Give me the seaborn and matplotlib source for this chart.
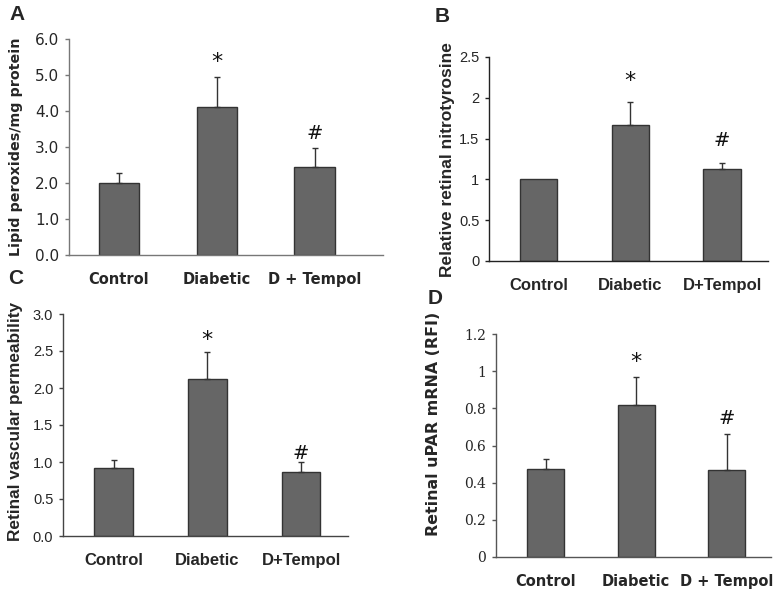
import matplotlib
matplotlib.use('Agg')
import matplotlib.pyplot as plt
import numpy as np
import seaborn as sns

# Panel A - lipid peroxides
cats_a = ['Control', 'Diabetic', 'D + Tempol']
vals_a = [2.01, 4.12, 2.44]
err_a = [0.27, 0.83, 0.52]

# Panel B - nitrotyrosine
cats_b = ['Control', 'Diabetic', 'D+Tempol']
vals_b = [1.00, 1.665, 1.13]
err_b = [0.0, 0.285, 0.075]

# Panel C - vascular permeability
cats_c = ['Control', 'Diabetic', 'D+Tempol']
vals_c = [0.92, 2.12, 0.86]
err_c = [0.11, 0.36, 0.145]

# Panel D - uPAR mRNA
cats_d = ['Control', 'Diabetic', 'D + Tempol']
vals_d = [0.474, 0.82, 0.469]
err_d = [0.051, 0.148, 0.194]

marks = ['', '*', '#']

sns.set_style('white')

W, H = 781, 595
fig = plt.figure(figsize=(W / 100, H / 100), dpi=100)


def px_axes(left, right, bottom, top):
    return fig.add_axes([left / W, 1 - bottom / H, (right - left) / W, (bottom - top) / H])


def draw_panel(ax, box, cats, vals, errs, ylim, yticks, ytick_fmt, xlim, ylabel, label_px,
               tick_font, cat_font, label_font, spine_col, mark_offsets):
    sns.barplot(x=cats, y=vals, ax=ax, color='#666666', saturation=1,
                edgecolor='#333333', linewidth=1, width=0.41, errorbar=None)
    idx = [i for i, e in enumerate(errs) if e > 0]
    ax.errorbar(idx, [vals[i] for i in idx],
                yerr=[[0] * len(idx), [errs[i] for i in idx]],
                fmt='none', ecolor='#333333', elinewidth=1, capsize=2.5, capthick=1)
    ax.set_ylim(*ylim)
    ax.set_xlim(*xlim)
    ax.set_yticks(yticks)
    ax.set_yticklabels([ytick_fmt.format(t) for t in yticks], fontfamily=tick_font[0],
                       fontsize=tick_font[1])
    ax.set_xticks(range(len(cats)))
    ax.set_xticklabels(cats, fontfamily=cat_font[0], fontsize=cat_font[1], fontweight='bold')
    ax.tick_params(axis='y', left=True, direction='out', length=3, width=1,
                   color=spine_col, pad=4)
    ax.tick_params(axis='x', bottom=False, pad=9)
    for s in ['top', 'right']:
        ax.spines[s].set_visible(False)
    for s in ['left', 'bottom']:
        ax.spines[s].set_color(spine_col)
        ax.spines[s].set_linewidth(1)
    ax.set_xlabel('')
    ax.set_ylabel(ylabel, fontfamily=label_font[0], fontsize=label_font[1], fontweight='bold')
    # label centre given in pixels; anchor is the right edge of the rotated text
    left, right, bottom, top = box
    lx = (label_px[0] + 8 - left) / (right - left)
    ly = (bottom - label_px[1]) / (bottom - top)
    ax.yaxis.set_label_coords(lx, ly)
    for i, (m, off) in enumerate(zip(marks, mark_offsets)):
        if m:
            ax.annotate(m, (i, vals[i] + errs[i]), xytext=(0, off), textcoords='offset points',
                        ha='center', va='center', fontsize=16 if m == '*' else 14,
                        fontfamily='DejaVu Sans', color='#111111')


box_a = (69, 383, 255, 39)
ax_a = px_axes(*box_a)
draw_panel(ax_a, box_a, cats_a, vals_a, err_a, (0, 6), np.arange(0, 6.01, 1.0), '{:.1f}',
           (-0.51, 2.70), 'Lipid peroxides/mg protein', (15, 147),
           ('DejaVu Sans', 11), ('DejaVu Sans', 10.5), ('DejaVu Sans', 10.3), '#777777',
           [0, 11, 11])

box_b = (489, 768, 261, 57)
ax_b = px_axes(*box_b)
draw_panel(ax_b, box_b, cats_b, vals_b, err_b, (0, 2.5), np.arange(0, 2.51, 0.5), '{:g}',
           (-0.54, 2.50), 'Relative retinal nitrotyrosine', (447, 160),
           ('Liberation Sans', 10.5), ('Liberation Sans', 12), ('Liberation Sans', 12.5), '#222222',
           [0, 15, 16])

box_c = (63, 348, 536, 314)
ax_c = px_axes(*box_c)
draw_panel(ax_c, box_c, cats_c, vals_c, err_c, (0, 3), np.arange(0, 3.01, 0.5), '{:.1f}',
           (-0.54, 2.50), 'Retinal vascular permeability', (15, 421),
           ('Liberation Sans', 10.5), ('Liberation Sans', 12), ('Liberation Sans', 12.4), '#444444',
           [0, 9, 6])

box_d = (496, 771, 557, 334)
ax_d = px_axes(*box_d)
draw_panel(ax_d, box_d, cats_d, vals_d, err_d, (0, 1.2), np.arange(0, 1.21, 0.2), '{:g}',
           (-0.55, 2.49), 'Retinal uPAR mRNA (RFI)', (433, 424),
           ('DejaVu Serif', 10), ('DejaVu Sans', 10.5), ('DejaVu Sans', 11.4), '#555555',
           [0, 11, 11])

for lbl, x, y in [('A', 17, 15), ('B', 442, 17), ('C', 16, 278), ('D', 435, 298)]:
    fig.text(x / W, 1 - y / H, lbl, ha='center', va='center', fontsize=15,
             fontweight='bold', fontfamily='Liberation Sans')

fig.savefig('out.png', dpi=100)
